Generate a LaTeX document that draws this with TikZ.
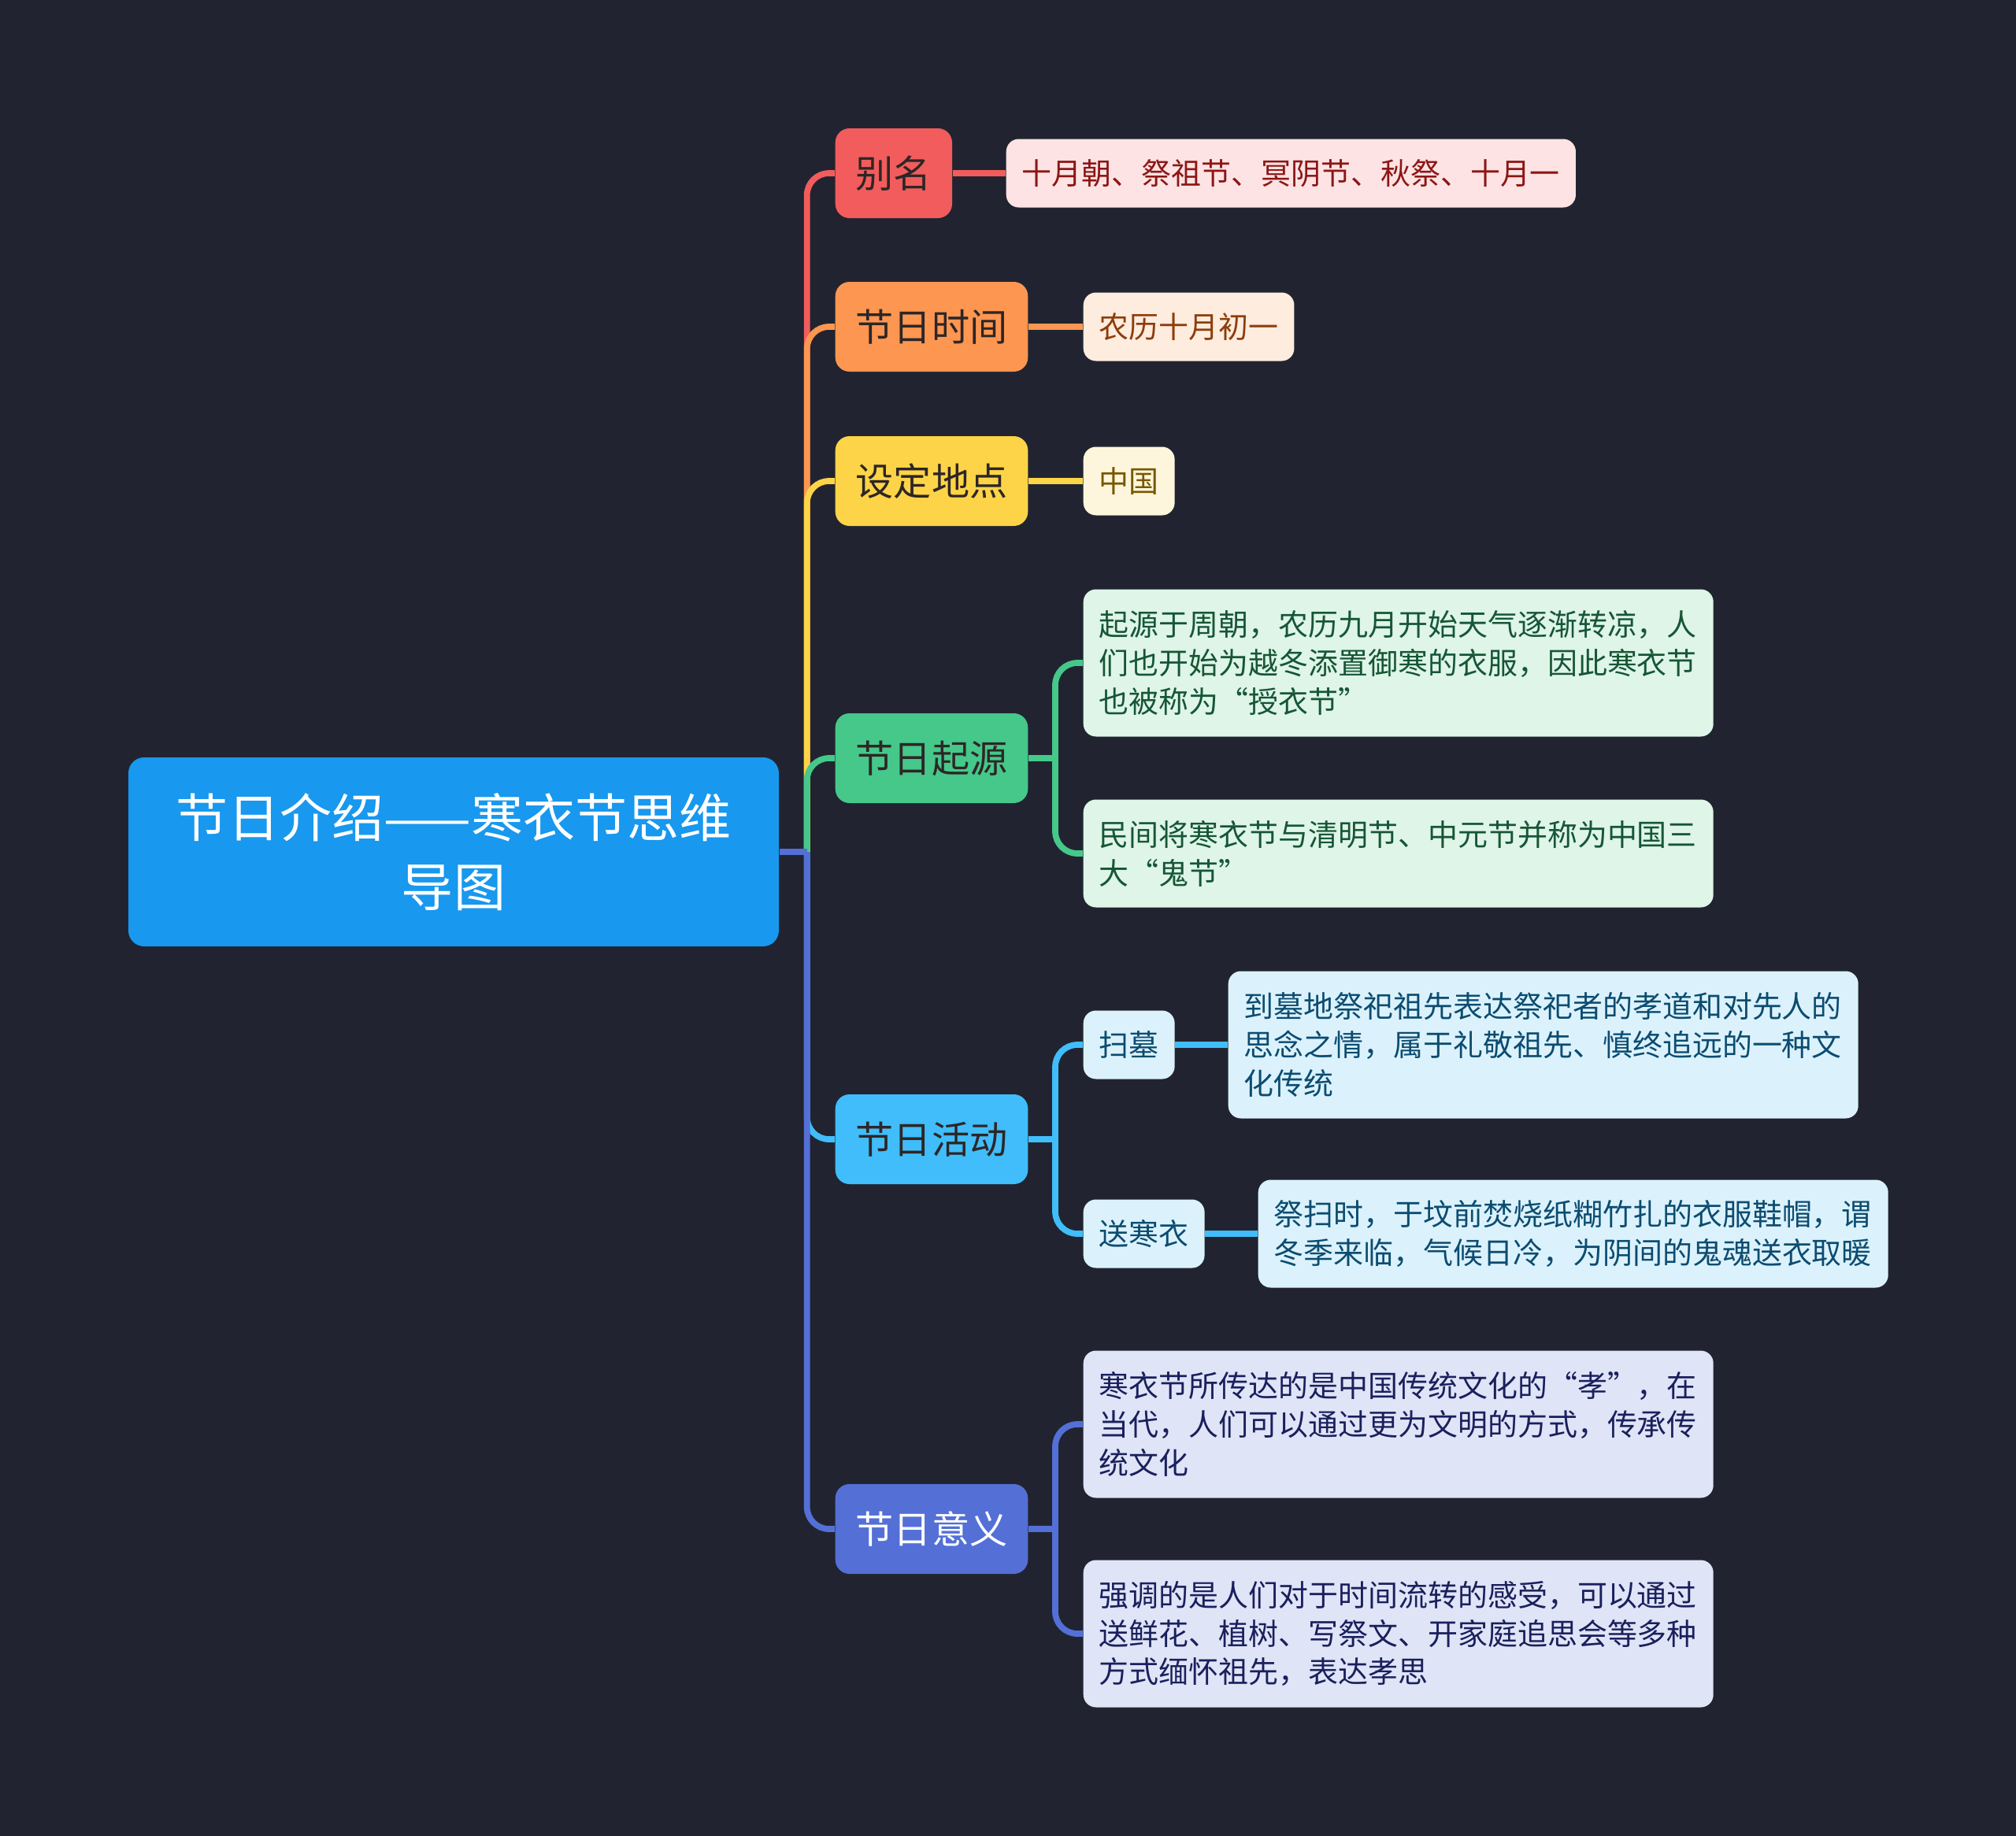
\documentclass[tikz,border=0pt]{standalone}
\usepackage{fontspec}
\setmainfont{Noto Sans CJK SC}
\usetikzlibrary{positioning}
\definecolor{bgdark}{RGB}{33,36,48}
\definecolor{rootblue}{RGB}{24,152,238}
\definecolor{cred}{RGB}{242,92,92}
\definecolor{corange}{RGB}{253,150,81}
\definecolor{cyellow}{RGB}{253,212,71}
\definecolor{cgreen}{RGB}{69,200,138}
\definecolor{cblue}{RGB}{64,189,250}
\definecolor{cindigo}{RGB}{84,112,214}
\definecolor{lvtext}{RGB}{45,38,38}
\definecolor{lred}{RGB}{253,227,227}
\definecolor{lorange}{RGB}{254,236,222}
\definecolor{lyellow}{RGB}{254,246,220}
\definecolor{lgreen}{RGB}{222,245,232}
\definecolor{lblue}{RGB}{219,242,253}
\definecolor{lindigo}{RGB}{223,228,247}
\definecolor{tred}{RGB}{140,22,22}
\definecolor{torange}{RGB}{140,62,12}
\definecolor{tyellow}{RGB}{118,88,0}
\definecolor{tgreen}{RGB}{22,86,52}
\definecolor{tblue}{RGB}{12,76,112}
\definecolor{tindigo}{RGB}{26,32,92}

\begin{document}
\begin{tikzpicture}[
    topic/.style={rectangle, rounded corners=0.2cm, fill=rootblue, text=white, font=\fontsize{18.8}{25}\selectfont, align=center, text width=7.8cm, inner xsep=0.23cm, minimum height=2.4cm},
    branch/.style={rectangle, rounded corners=0.18cm, anchor=west, minimum height=1.14cm, inner xsep=0.26cm, font=\fontsize{13.7}{16}\selectfont, text=lvtext},
    leaf/.style={rectangle, rounded corners=0.16cm, anchor=west, minimum height=0.87cm, inner xsep=0.2cm, inner ysep=0.2cm, font=\fontsize{10.8}{13.9}\selectfont, align=left},
    wide/.style={text width=7.6cm},
    link/.style={line width=2.2pt, rounded corners=0.28cm},
]
    \fill[bgdark] (0,0) rectangle (25.6,-23.32);
    \useasboundingbox (0,0) rectangle (25.6,-23.32);

    \node[topic] (root) at (5.76,-10.82) {节日介绍——寒衣节思维\\导图};

    \node[branch, fill=cred] (alias) at (10.60,-2.20) {别名};
    \node[branch, fill=corange] (time) at (10.60,-4.15) {节日时间};
    \node[branch, fill=cyellow] (place) at (10.60,-6.11) {设定地点};
    \node[branch, fill=cgreen] (origin) at (10.60,-9.63) {节日起源};
    \node[branch, fill=cblue] (custom) at (10.60,-14.47) {节日活动};
    \node[branch, fill=cindigo, text=white] (meaning) at (10.60,-19.42) {节日意义};

    \coordinate (roothub) at ([xshift=0.35cm]root.east);
    \draw[link, cred] (roothub) |- (alias.west);
    \draw[link, corange] (roothub) |- (time.west);
    \draw[link, cyellow] (roothub) |- (place.west);
    \draw[link, cgreen] (roothub) |- (origin.west);
    \draw[link, cblue] (roothub) |- (custom.west);
    \draw[link, cindigo] (roothub) |- (meaning.west);
    \draw[link, cindigo] (root.east) -- (roothub);

    \node[leaf, fill=lred, text=tred] (aliasA) at (12.77,-2.20) {十月朝、祭祖节、冥阴节、秋祭、十月一};
    \node[leaf, fill=lorange, text=torange] (timeA) at (13.75,-4.15) {农历十月初一};
    \node[leaf, fill=lyellow, text=tyellow] (placeA) at (13.75,-6.11) {中国};
    \draw[link, cred] (alias.east) -- (aliasA.west);
    \draw[link, corange] (time.east) -- (timeA.west);
    \draw[link, cyellow] (place.east) -- (placeA.west);

    \node[leaf, wide, minimum height=1.87cm, fill=lgreen, text=tgreen] (originA) at (13.75,-8.42) {起源于周朝，农历九月开始天气逐渐转凉，人\\们也开始为越冬添置御寒的衣服，因此寒衣节\\也被称为“授衣节”};
    \node[leaf, wide, minimum height=1.37cm, fill=lgreen, text=tgreen] (originB) at (13.75,-10.84) {民间将寒衣节与清明节、中元节并称为中国三\\大“鬼节”};
    \coordinate (originhub) at ([xshift=0.34cm]origin.east);
    \draw[link, cgreen] (origin.east) -- (originhub);
    \draw[link, cgreen] (originhub) |- (originA.west);
    \draw[link, cgreen] (originhub) |- (originB.west);

    \node[leaf, fill=lblue, text=tblue] (sweep) at (13.75,-13.27) {扫墓};
    \node[leaf, fill=lblue, text=tblue] (clothes) at (13.75,-15.67) {送寒衣};
    \coordinate (customhub) at ([xshift=0.34cm]custom.east);
    \draw[link, cblue] (custom.east) -- (customhub);
    \draw[link, cblue] (customhub) |- (sweep.west);
    \draw[link, cblue] (customhub) |- (clothes.west);
    \node[leaf, wide, minimum height=1.87cm, fill=lblue, text=tblue] (sweepA) at (15.59,-13.27) {到墓地祭祀祖先表达祭祀者的孝道和对先人的\\思念之情，属于礼敬祖先、慎终追远的一种文\\化传统};
    \node[leaf, wide, minimum height=1.37cm, fill=lblue, text=tblue] (clothesA) at (15.97,-15.67) {祭扫时，于坟前焚烧纸糊竹扎的衣服鞋帽，谓\\冬季来临，气候日冷，为阴间的鬼魂送衣取暖};
    \draw[link, cblue] (sweep.east) -- (sweepA.west);
    \draw[link, cblue] (clothes.east) -- (clothesA.west);

    \node[leaf, wide, minimum height=1.87cm, fill=lindigo, text=tindigo] (meaningA) at (13.75,-18.09) {寒衣节所传达的是中国传统文化的“孝”，在\\当代，人们可以通过更为文明的方式，传承传\\统文化};
    \node[leaf, wide, minimum height=1.87cm, fill=lindigo, text=tindigo] (meaningB) at (13.75,-20.75) {强调的是人们对于时间流转的感受，可以通过\\送鲜花、植树、写祭文、开家庭追思会等多种\\方式缅怀祖先，表达孝思};
    \coordinate (meaninghub) at ([xshift=0.34cm]meaning.east);
    \draw[link, cindigo] (meaning.east) -- (meaninghub);
    \draw[link, cindigo] (meaninghub) |- (meaningA.west);
    \draw[link, cindigo] (meaninghub) |- (meaningB.west);
\end{tikzpicture}
\end{document}
